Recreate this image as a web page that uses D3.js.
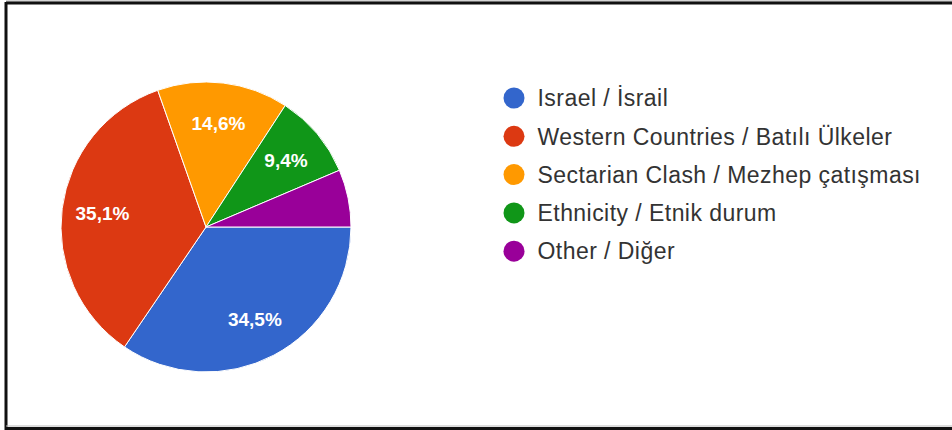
<!DOCTYPE html>
<html>
<head>
<meta charset="utf-8">
<script src="https://cdn.jsdelivr.net/npm/d3@7"></script>
<style>
  html, body { margin: 0; padding: 0; background: #fff; }
  svg { display: block; }
</style>
</head>
<body>
<svg id="chart" width="952" height="430"></svg>
<script>
const categories = ["Israel / İsrail", "Western Countries / Batılı Ülkeler", "Sectarian Clash / Mezhep çatışması", "Ethnicity / Etnik durum", "Other / Diğer"];
const values = [34.5, 35.1, 14.6, 9.4, 6.4];
const labels = ["34,5%", "35,1%", "14,6%", "9,4%", ""];
const colors = ["#3366cc", "#dc3912", "#ff9900", "#109618", "#990099"];

const svg = d3.select("#chart");

// frame
svg.append("rect").attr("x", 0).attr("y", 0).attr("width", 952).attr("height", 430).attr("fill", "#fff");
svg.append("line").attr("x1", 6).attr("x2", 952).attr("y1", 1).attr("y2", 1).attr("stroke", "#aaa").attr("stroke-width", 1);
svg.append("line").attr("x1", 6).attr("x2", 952).attr("y1", 3).attr("y2", 3).attr("stroke", "#111").attr("stroke-width", 3);
svg.append("line").attr("x1", 6).attr("x2", 6).attr("y1", 2).attr("y2", 430).attr("stroke", "#111").attr("stroke-width", 3);
svg.append("line").attr("x1", 6).attr("x2", 952).attr("y1", 426).attr("y2", 426).attr("stroke", "#bbb").attr("stroke-width", 1);
svg.append("line").attr("x1", 6).attr("x2", 952).attr("y1", 428.5).attr("y2", 428.5).attr("stroke", "#111").attr("stroke-width", 3);

const cx = 206, cy = 227, r = 145;
const pie = d3.pie().sort(null).value(d => d).startAngle(Math.PI / 2).endAngle(Math.PI / 2 + 2 * Math.PI);
const arcs = pie(values);
const arc = d3.arc().innerRadius(0).outerRadius(r);
const labelArc = d3.arc().innerRadius(r * 0.72).outerRadius(r * 0.72);

const g = svg.append("g").attr("transform", `translate(${cx},${cy})`);
g.selectAll("path").data(arcs).join("path")
  .attr("d", arc)
  .attr("fill", (d, i) => colors[i])
  .attr("stroke", "#fff")
  .attr("stroke-width", 1);

g.selectAll("text.lbl").data(arcs).join("text")
  .attr("class", "lbl")
  .attr("transform", d => `translate(${labelArc.centroid(d)})`)
  .attr("text-anchor", "middle")
  .attr("dy", "0.36em")
  .attr("fill", "#fff")
  .attr("font-family", "Liberation Sans, Arial, sans-serif")
  .attr("font-weight", "bold")
  .attr("font-size", 19)
  .text((d, i) => labels[i]);

// legend
const lx = 514, ly0 = 98, step = 38.3;
const leg = svg.append("g");
const rows = leg.selectAll("g").data(categories).join("g")
  .attr("transform", (d, i) => `translate(${lx},${ly0 + i * step})`);
rows.append("circle").attr("r", 10.5).attr("fill", (d, i) => colors[i]);
rows.append("text")
  .attr("x", 23.5)
  .attr("dy", "0.36em")
  .attr("fill", "#333")
  .attr("font-family", "Liberation Sans, Arial, sans-serif")
  .attr("font-size", 23)
  .attr("letter-spacing", 0.45)
  .text(d => d);
</script>
</body>
</html>
